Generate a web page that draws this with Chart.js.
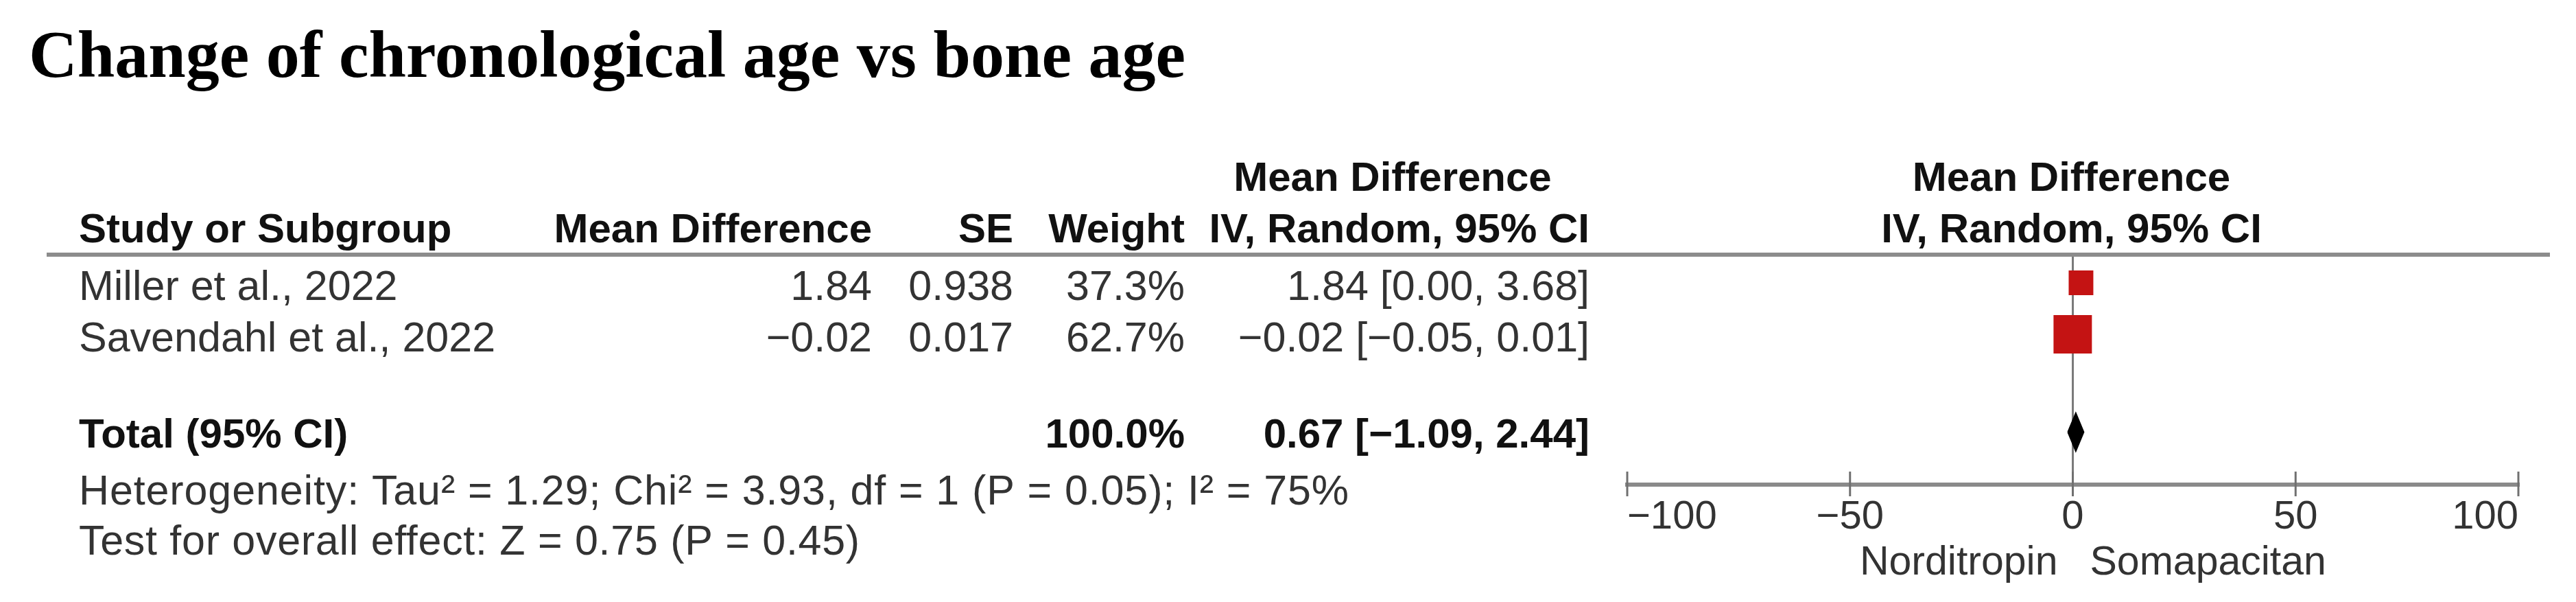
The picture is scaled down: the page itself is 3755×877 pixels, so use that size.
<!DOCTYPE html>
<html>
<head>
<meta charset="utf-8">
<script src="https://cdn.jsdelivr.net/npm/chart.js@4.4.1/dist/chart.umd.min.js"></script>
<style>
  html, body { margin: 0; padding: 0; background: #ffffff; }
  #wrap { width: 3755px; height: 877px; position: relative; }
</style>
</head>
<body>
<div id="wrap"><canvas id="forest"></canvas></div>
<script>
// ---------------- data ----------------
const chartTitle = 'Change of chronological age vs bone age';
const studies = ['Miller et al., 2022', 'Savendahl et al., 2022'];
const meanDiff = [1.84, -0.02];
const stdErr = [0.938, 0.017];
const weights = [37.3, 62.7];
const ciLow = [0.00, -0.05];
const ciHigh = [3.68, 0.01];
const totalLabel = 'Total (95% CI)';
const totalEstimate = 0.67;
const totalLow = -1.09;
const totalHigh = 2.44;
const tau2 = 1.29, chi2 = 3.93, hetDf = 1, hetP = 0.05, iSquared = 75;
const zValue = 0.75, zP = 0.45;
const xTicks = [-100, -50, 0, 50, 100];
const favourLabels = ['Norditropin', 'Somapacitan'];
const headerLeft = ['Study or Subgroup', 'Mean Difference', 'SE', 'Weight', 'IV, Random, 95% CI'];
const effectHeader = ['Mean Difference', 'IV, Random, 95% CI'];

// ---------------- layout constants ----------------
const W = 3755, H = 877;
const TOTAL_ROW = 2.9;
const DIAMOND_HALF = 0.37;
const REG = '"Liberation Sans", Arial, sans-serif';
const SERIF = '"Liberation Serif", "Times New Roman", serif';

const fmt = (v, d) => v.toFixed(d).replace(/-/g, '\u2212');
const squareSide = w => 6.6 + 0.787 * w;

// draw left-aligned text spread to a target width (font metrics differ slightly from the original)
function fillSpread(ctx, text, x, y, targetWidth) {
  ctx.letterSpacing = '0px';
  const w = ctx.measureText(text).width;
  const s = (targetWidth - w) / text.length;
  if (s > 0 && s < 4) ctx.letterSpacing = s.toFixed(2) + 'px';
  ctx.fillText(text, x, y);
  ctx.letterSpacing = '0px';
}

function build() {
  const squares = {
    type: 'scatter',
    data: meanDiff.map((m, i) => ({ x: m, y: i })),
    pointStyle: 'rect',
    pointRadius: weights.map(w => squareSide(w) / Math.SQRT2),
    pointHoverRadius: weights.map(w => squareSide(w) / Math.SQRT2),
    backgroundColor: '#c41313',
    borderWidth: 0,
    pointBorderWidth: 0,
    order: 0
  };
  const ciLines = studies.map((s, i) => ({
    type: 'line',
    data: [{ x: ciLow[i], y: i }, { x: ciHigh[i], y: i }],
    borderColor: '#333333',
    borderWidth: 3,
    pointRadius: 0,
    fill: false,
    order: 1
  }));
  const diamond = {
    type: 'line',
    data: [
      { x: totalLow, y: TOTAL_ROW },
      { x: totalEstimate, y: TOTAL_ROW - DIAMOND_HALF },
      { x: totalHigh, y: TOTAL_ROW },
      { x: totalEstimate, y: TOTAL_ROW + DIAMOND_HALF },
      { x: totalLow, y: TOTAL_ROW }
    ],
    borderColor: '#000000',
    backgroundColor: '#000000',
    borderWidth: 2,
    pointRadius: 0,
    tension: 0,
    fill: 'shape',
    order: 1
  };

  const forestText = {
    id: 'forestText',
    afterDraw(chart) {
      const ctx = chart.ctx;
      const xs = chart.scales.x, ys = chart.scales.y, area = chart.chartArea;
      const x0 = xs.getPixelForValue(0);
      ctx.save();

      // title
      ctx.fillStyle = '#000000';
      ctx.textBaseline = 'alphabetic';
      ctx.textAlign = 'left';
      ctx.font = 'bold 98px ' + SERIF;
      ctx.fillText(chartTitle, 42, 112);

      // header line
      ctx.strokeStyle = '#8c8c8c';
      ctx.lineWidth = 6;
      ctx.beginPath();
      ctx.moveTo(68, area.top);
      ctx.lineTo(3717, area.top);
      ctx.stroke();

      // headers
      const bold = 'bold 60px ' + REG;
      const reg = '61px ' + REG;
      const colRight = [null, 1271, 1477, 1727, 2317];
      ctx.font = bold;
      ctx.fillStyle = '#111111';
      ctx.textAlign = 'left';
      ctx.fillText(headerLeft[0], 115, 353);
      ctx.textAlign = 'right';
      for (let c = 1; c < headerLeft.length; c++) ctx.fillText(headerLeft[c], colRight[c], 353);
      ctx.textAlign = 'center';
      ctx.fillText(effectHeader[0], 2030, 278);
      ctx.fillText(effectHeader[0], x0 - 2, 278);
      ctx.fillText(effectHeader[1], x0 - 2, 353);

      // study rows
      ctx.font = reg;
      ctx.fillStyle = '#333333';
      studies.forEach((s, i) => {
        const y = ys.getPixelForValue(i) + 25;
        ctx.textAlign = 'left';
        ctx.fillText(s, 115, y);
        ctx.textAlign = 'right';
        ctx.fillText(fmt(meanDiff[i], 2), colRight[1], y);
        ctx.fillText(stdErr[i].toFixed(3), colRight[2], y);
        ctx.fillText(weights[i].toFixed(1) + '%', colRight[3], y);
        ctx.fillText(fmt(meanDiff[i], 2) + ' [' + fmt(ciLow[i], 2) + ', ' + fmt(ciHigh[i], 2) + ']', colRight[4], y);
      });

      // total row
      const ty = ys.getPixelForValue(TOTAL_ROW) + 22;
      const totalWeight = weights.reduce((a, b) => a + b, 0);
      ctx.font = bold;
      ctx.fillStyle = '#111111';
      ctx.textAlign = 'left';
      ctx.fillText(totalLabel, 115, ty);
      ctx.textAlign = 'right';
      ctx.fillText(totalWeight.toFixed(1) + '%', colRight[3], ty);
      ctx.fillText(fmt(totalEstimate, 2) + ' [' + fmt(totalLow, 2) + ', ' + fmt(totalHigh, 2) + ']', colRight[4], ty);

      // heterogeneity / overall effect
      ctx.font = reg;
      ctx.fillStyle = '#333333';
      ctx.textAlign = 'left';
      fillSpread(ctx, 'Heterogeneity: Tau\u00B2 = ' + tau2.toFixed(2) + '; Chi\u00B2 = ' + chi2.toFixed(2) +
        ', df = ' + hetDf + ' (P = ' + hetP.toFixed(2) + '); I\u00B2 = ' + iSquared + '%', 115, 735, 1852);
      fillSpread(ctx, 'Test for overall effect: Z = ' + zValue.toFixed(2) + ' (P = ' + zP.toFixed(2) + ')', 115, 808, 1139);

      // tick marks on the effect axis
      ctx.strokeStyle = '#707070';
      ctx.lineWidth = 3;
      xs.ticks.forEach(t => {
        const px = xs.getPixelForValue(t.value);
        ctx.beginPath();
        ctx.moveTo(px, area.bottom - 19);
        ctx.lineTo(px, area.bottom + 17);
        ctx.stroke();
      });

      // favours labels
      ctx.font = '59px ' + REG;
      ctx.fillStyle = '#333333';
      ctx.textAlign = 'right';
      ctx.fillText(favourLabels[0], x0 - 22, area.bottom + 131);
      ctx.textAlign = 'left';
      ctx.fillText(favourLabels[1], x0 + 25, area.bottom + 131);

      ctx.restore();
    }
  };

  new Chart(document.getElementById('forest'), {
    type: 'scatter',
    data: { datasets: [squares, ...ciLines, diamond] },
    options: {
      responsive: true,
      maintainAspectRatio: false,
      devicePixelRatio: 1,
      animation: false,
      events: [],
      layout: { padding: { left: 2372, right: W - 3671, top: 371, bottom: 0 } },
      plugins: { legend: { display: false }, tooltip: { enabled: false }, title: { display: false } },
      scales: {
        x: {
          type: 'linear',
          min: xTicks[0],
          max: xTicks[xTicks.length - 1],
          afterBuildTicks: s => { s.ticks = xTicks.map(v => ({ value: v })); },
          afterFit: s => { s.height = H - 706; },
          ticks: {
            align: 'inner',
            padding: 13,
            autoSkip: false,
            maxRotation: 0,
            color: '#333333',
            font: { family: 'Liberation Sans', size: 58 },
            callback: v => String(v).replace('-', '\u2212')
          },
          grid: {
            drawTicks: false,
            lineWidth: 3,
            color: c => (c.tick && c.tick.value === 0) ? '#7a7a7a' : 'rgba(0,0,0,0)'
          },
          border: { display: true, color: '#8a8a8a', width: 6 }
        },
        y: {
          type: 'linear',
          display: false,
          reverse: true,
          min: -0.547,
          max: 3.92
        }
      }
    },
    plugins: [forestText]
  });
}

Promise.all([
  document.fonts.load('61px "Liberation Sans"'),
  document.fonts.load('bold 60px "Liberation Sans"'),
  document.fonts.load('bold 98px "Liberation Serif"')
]).then(build, build);
</script>
</body>
</html>
